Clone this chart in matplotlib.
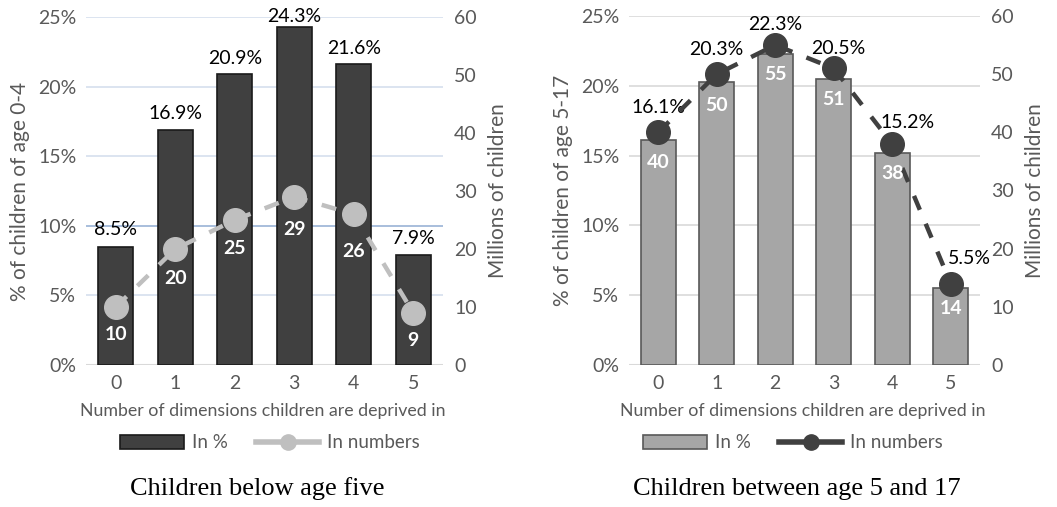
import matplotlib
matplotlib.use("Agg")
import matplotlib.pyplot as plt
from matplotlib.lines import Line2D
from matplotlib.patches import Patch

# deprivation counts on the x axis
dimensions = [0, 1, 2, 3, 4, 5]

# children below age five
under5_pct = [8.5, 16.9, 20.9, 24.3, 21.6, 7.9]
under5_millions = [10, 20, 25, 29, 26, 9]

# children aged 5 to 17
age5_17_pct = [16.1, 20.3, 22.3, 20.5, 15.2, 5.5]
age5_17_millions = [40, 50, 55, 51, 38, 14]

pct_ticks = [0, 5, 10, 15, 20, 25]
num_ticks = [0, 10, 20, 30, 40, 50, 60]

W, H = 1057, 507
FONT = "Lato"
GREY_TXT = "#595959"

plt.rcParams["font.family"] = [FONT, "DejaVu Sans"]

fig = plt.figure(figsize=(W / 100, H / 100), dpi=100)


def px_axes(x0, x1, y_top, y_bot):
    return fig.add_axes([x0 / W, 1 - y_bot / H, (x1 - x0) / W, (y_bot - y_top) / H])


def panel(ax, pct, millions, bar_fc, bar_ec, line_c, grid_c, ylabel, pct_dx, pct_dy, num_dy):
    ax.set_xlim(-0.5, len(dimensions) - 0.5)
    ax.set_ylim(0, 25)
    for t in pct_ticks[1:]:
        ax.axhline(t, color=grid_c, lw=1.2, zorder=0)
    ax.axhline(0, color="#D9D9D9", lw=1.5, zorder=0)
    ax.bar(dimensions, pct, width=0.59, color=bar_fc, edgecolor=bar_ec, lw=1.2, zorder=2)
    ax.set_yticks(pct_ticks)
    ax.set_yticklabels([f"{t}%" for t in pct_ticks])
    ax.set_xticks(dimensions)
    ax.tick_params(length=0, labelsize=14, colors=GREY_TXT, pad=7)
    for s in ax.spines.values():
        s.set_visible(False)
    ax.set_ylabel(ylabel, fontsize=15, color=GREY_TXT, labelpad=6)

    for i, (x, p) in enumerate(zip(dimensions, pct)):
        ax.annotate(f"{p}%", (x, p), xytext=(pct_dx[i], pct_dy[i]),
                    textcoords="offset pixels", ha="center", va="center",
                    fontsize=14, color="black", zorder=6, annotation_clip=False)

    ax2 = ax.twinx()
    ax2.set_ylim(0, 60)
    ax2.set_yticks(num_ticks)
    ax2.tick_params(length=0, labelsize=14, colors=GREY_TXT, pad=8)
    for s in ax2.spines.values():
        s.set_visible(False)
    ax2.set_ylabel("Millions of children", fontsize=15, color=GREY_TXT, labelpad=8)
    ax2.plot(dimensions, millions, color=line_c, lw=3.2, ls=(0, (3.4, 3.4)),
             marker="o", ms=17, mfc=line_c, mec=line_c, zorder=4)
    for i, (x, m) in enumerate(zip(dimensions, millions)):
        ax2.annotate(f"{m}", (x, m), xytext=(0, -num_dy[i]), textcoords="offset pixels",
                     ha="center", va="center", fontsize=14, fontweight="bold",
                     color="white", zorder=6)
    return ax2


# left panel: under five
axL = px_axes(86, 443, 17, 365)
panel(axL, under5_pct, under5_millions, "#404040", "#1A1A1A", "#BFBFBF", "#D6DFEE",
      "% of children of age 0-4",
      [0, 0, 0, 0, 0, 0], [17, 16, 16, 10, 16, 17], [27, 30, 29, 33, 37, 28])
axL.axhline(10, color="#A9BEDC", lw=1.4, zorder=0)

# right panel: 5 to 17
axR = px_axes(629, 980, 16, 365)
panel(axR, age5_17_pct, age5_17_millions, "#A6A6A6", "#595959", "#404040", "#D9D9D9",
      "% of children of age 5-17",
      [0, 0, 0, 5, 15, 19], [33, 32, 29, 30, 30, 30], [30, 31, 29, 31, 30, 25])

xlabel = "Number of dimensions children are deprived in"
fig.text(263 / W, 1 - 411 / H, xlabel, ha="center", va="center", fontsize=12.8, color=GREY_TXT)
fig.text(803 / W, 1 - 411 / H, xlabel, ha="center", va="center", fontsize=12.8, color=GREY_TXT)

legend_specs = [
    (270, "#404040", "#1A1A1A", "#BFBFBF"),
    (793, "#A6A6A6", "#595959", "#404040"),
]
for cx, fc, ec, lc in legend_specs:
    handles = [
        Patch(facecolor=fc, edgecolor=ec, lw=1.2, label="In %"),
        Line2D([], [], color=lc, lw=4, marker="o", ms=11, label="In numbers"),
    ]
    fig.legend(handles=handles, loc="center", bbox_to_anchor=(cx / W, 1 - 443 / H),
               ncol=2, frameon=False, fontsize=13.5, labelcolor=GREY_TXT,
               handlelength=3.4, handleheight=0.75, columnspacing=1.5, handletextpad=0.4)

fig.text(257 / W, 1 - 489 / H, "Children below age five", ha="center", va="center",
         fontsize=19, family="Liberation Serif", color="black")
fig.text(797 / W, 1 - 489 / H, "Children between age 5 and 17", ha="center", va="center",
         fontsize=19, family="Liberation Serif", color="black")

fig.savefig("out.png", dpi=100)
